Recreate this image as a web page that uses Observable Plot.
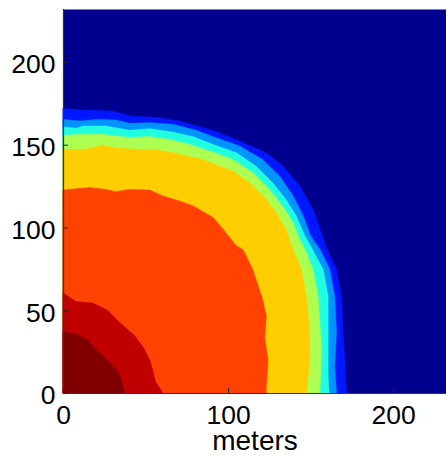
<!DOCTYPE html>
<html>
<head>
<meta charset="utf-8">
<script src="https://cdn.jsdelivr.net/npm/d3@7"></script>
<script src="https://cdn.jsdelivr.net/npm/@observablehq/plot@0.6"></script>
<style>
  html, body { margin: 0; padding: 0; background: #fff; }
  #chart svg { display: block; }
</style>
</head>
<body>
<div id="chart"></div>
<script>
// Contour band outer edges (x, y in meters)
const darkRedEdge = [[0,37.3],[8,35.4],[14,33],[20,26.5],[27,20],[32,14.5],[35,9],[36.5,3],[37,0]];
const redEdge = [[0,60.5],[8,55.2],[18,54.4],[27,50],[35,42],[43,35],[49,27],[53,19],[55,11],[56,7],[60.5,0]];
const orangeEdge = [[0,122.6],[16,124.2],[26,123],[32,121.6],[40,123],[52.5,122.6],[60.6,119],[70.7,116],[79,113],[91,106],[97,99],[105,89],[109,86.7],[115,74.6],[121,56.4],[123.2,46.3],[122.2,33.3],[124.2,20],[123,0]];
const yellowEdge = [[0,147.2],[12,147],[24,149.6],[34,147.8],[44,147.2],[54.5,147.2],[66.7,145.2],[76.8,142.8],[85,141],[91,138.3],[103,134.1],[113,127],[123,117],[129,109],[135,99],[139.4,86.7],[144.4,74.6],[147.5,58.4],[149.5,36.3],[149.5,20.2],[147.5,0]];
const greenEdge = [[0,155.7],[12,156.3],[24,156.3],[40.4,154.3],[52.5,154.9],[64.7,153.2],[76.8,150.2],[91,145.4],[103,141.1],[115,133],[125,123],[133,113],[139.4,102.8],[143.4,92.7],[146.7,86.7],[151.5,74.6],[154.5,58.4],[155.6,42.3],[156.6,26.2],[155.6,0]];
const cyanEdge = [[0,160.9],[8,159.9],[12,161.3],[26,161.3],[40.4,158.7],[52.5,159.7],[66.5,157.7],[78.6,154.9],[91,150.2],[105,145.2],[117,137],[127,127],[135,117],[141.4,106.8],[146.5,95],[151.2,86.7],[157.6,74.6],[160.6,58.4],[160.6,36.3],[160.6,10],[161.2,0]];
const lightBlueEdge = [[0,165.3],[10,164.3],[20,165.3],[32,164.9],[40.4,162.9],[52.5,163.3],[66.5,162.3],[80.8,158.7],[91,154.8],[107,149.2],[121,141],[131.3,131],[139.4,119],[145.5,107],[150,95],[155.8,86.7],[161.6,74.6],[164.6,58.4],[165.7,36.3],[164.6,16.1],[165.7,0]];
const blueEdge = [[0,172],[10,171],[30,170.4],[40.4,167.3],[56.6,166.4],[70.7,164.3],[84.8,160.3],[91,158.6],[107,152.2],[123,145.2],[133.3,137],[143.4,125],[151.5,111],[155.6,99],[160,86.7],[165.7,74.6],[168.7,58.4],[169.7,36.3],[170.7,20.2],[171.7,0]];

// Drawn from the outside in
const bandEdges = [blueEdge, lightBlueEdge, cyanEdge, greenEdge, yellowEdge, orangeEdge, redEdge, darkRedEdge];
const bandColors = ["#0018FF", "#0094FF", "#20FFDF", "#ADFF52", "#FFCE00", "#FF4200", "#C00000", "#800000"];
const backgroundColor = "#00008F";

const xTicks = [0, 100, 200];
const yTicks = [0, 50, 100, 150, 200];
const xLabel = "meters";

const font = "'Liberation Sans', Arial, Helvetica, sans-serif";

const bandMarks = bandEdges.map((edge, i) =>
  Plot.areaY(edge, {x: d => d[0], y1: 0, y2: d => d[1], fill: bandColors[i], stroke: bandColors[i], strokeWidth: 0.5})
);

const chart = Plot.plot({
  width: 446,
  height: 456,
  marginLeft: 63,
  marginRight: 0,
  marginTop: 9,
  marginBottom: 63,
  style: {fontFamily: font, background: "#fff", overflow: "visible"},
  x: {domain: [0, 232], label: null},
  y: {domain: [0, 232], label: null},
  marks: [
    Plot.frame({fill: backgroundColor, stroke: null}),
    ...bandMarks,
    Plot.ruleY([0], {stroke: "#333", strokeWidth: 1.2}),
    Plot.ruleX([0], {stroke: "#333", strokeWidth: 1.2}),
    Plot.axisX(xTicks, {tickSize: 5, dy: -5, tickFormat: () => "", stroke: "#222", label: null}),
    Plot.axisY(yTicks, {tickSize: 5, dx: 5, tickFormat: () => "", stroke: "#222", label: null}),
    Plot.axisX(xTicks, {tickSize: 0, tickPadding: 12, fontSize: 26.5, fill: "#000", label: null}),
    Plot.axisY(yTicks, {tickSize: 0, tickPadding: 8, dy: 2.5, fontSize: 26.5, fill: "#000", label: null}),
    Plot.text([xLabel], {frameAnchor: "bottom", dy: 48, lineAnchor: "middle", fontSize: 28, fill: "#000", text: d => d})
  ]
});
document.getElementById("chart").appendChild(chart);
</script>
</body>
</html>
